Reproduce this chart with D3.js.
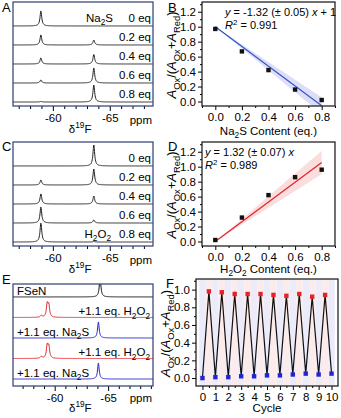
<!DOCTYPE html>
<html>
<head>
<meta charset="utf-8">
<script src="https://cdn.jsdelivr.net/npm/d3@7/dist/d3.min.js"></script>
<style>
  body { margin: 0; background: #fff; }
  svg { font-family: "Liberation Sans", Arial, sans-serif; }
</style>
</head>
<body>
<svg id="chart" width="341" height="418"></svg>
<script>
// ---- values ----

// A: 19F spectra during Na2S titration (peak heights in trace-spacing units)
const eqLabelsA = ["0 eq", "0.2 eq", "0.4 eq", "0.6 eq", "0.8 eq"];
const oxHeightsA = [0.79, 0.53, 0.32, 0.16, 0.03];
const redHeightsA = [0.0, 0.26, 0.5, 0.79, 0.89];

// C: 19F spectra during H2O2 titration
const eqLabelsC = ["0 eq", "0.2 eq", "0.4 eq", "0.6 eq", "0.8 eq"];
const oxHeightsC = [0.0, 0.26, 0.53, 0.84, 1.0];
const redHeightsC = [1.1, 0.84, 0.42, 0.16, 0.03];

const ppmOx = -58.95;
const ppmRed = -63.6;

// B: ratio vs Na2S content
const contentB = [0, 0.2, 0.4, 0.6, 0.8];
const ratioB = [0.97, 0.67, 0.42, 0.16, 0.02];
const errB = [0.01, 0.01, 0.01, 0.02, 0.01];
const fitB = { slope: -1.32, err: 0.05, intercept: 1 };

// D: ratio vs H2O2 content
const contentD = [0, 0.2, 0.4, 0.6, 0.8];
const ratioD = [0.02, 0.32, 0.62, 0.86, 0.96];
const errD = [0.01, 0.01, 0.02, 0.01, 0.01];
const fitD = { slope: 1.32, err: 0.07, intercept: 0 };

// E: alternating additions, [ppm, height] per trace
const labelsE = ["FSeN", "+1.1 eq. H_{2}O_{2}", "+1.1 eq. Na_{2}S", "+1.1 eq. H_{2}O_{2}", "+1.1 eq. Na_{2}S"];
const colorsE = ["#111111", "#e3242b", "#2424c8", "#e3242b", "#2424c8"];
const peaksE = [
  [[-64.25, 0.95]],
  [[-58.74, 0.1], [-59.3, 0.62], [-59.45, 0.55]],
  [[-64.09, 0.78]],
  [[-58.74, 0.1], [-59.3, 0.6], [-59.45, 0.55]],
  [[-64.09, 0.78]]
];

// F: redox cycling
const cycleOx = [0.5, 1.5, 2.5, 3.5, 4.5, 5.5, 6.5, 7.5, 8.5, 9.5];
const ratioOx = [0.98, 0.97, 0.95, 0.95, 0.95, 0.94, 0.93, 0.95, 0.92, 0.94];
const errOx = [0.01, 0.01, 0.03, 0.02, 0.01, 0.01, 0.01, 0.01, 0.01, 0.02];
const cycleRed = [0, 1, 2, 3, 4, 5, 6, 7, 8, 9, 10];
const ratioRed = [0.0, 0.01, 0.01, 0.02, 0.02, 0.03, 0.03, 0.04, 0.05, 0.04, 0.05];

const yTitle = "*A*_{Ox}/(*A*_{Ox}+*A*_{Red})";

// ---- helpers ----
const svg = d3.select("#chart");
const FS = 11;
const YT = 13;

function rich(text, str, size) {
  const parts = str.match(/_\{[^}]*\}|\^\{[^}]*\}|\*[^*]*\*|[^_^*]+/g);
  let shift = 0;
  parts.forEach(p => {
    let t = p, s = 0, fs = size, it = false;
    if (p[0] === "_") { t = p.slice(2, -1); s = size * 0.3; fs = size * 0.72; }
    else if (p[0] === "^") { t = p.slice(2, -1); s = -size * 0.4; fs = size * 0.72; }
    else if (p[0] === "*") { t = p.slice(1, -1); it = true; }
    text.append("tspan")
      .attr("dy", s - shift)
      .attr("font-size", fs)
      .attr("font-style", it ? "italic" : null)
      .text(t);
    shift = s;
  });
  return text;
}

function label(x, y, str, anchor, size) {
  const t = svg.append("text")
    .attr("x", x).attr("y", y)
    .attr("text-anchor", anchor || "start")
    .attr("font-size", size || FS);
  return rich(t, str, size || FS);
}

function spectraPanel(id, fr, ppmDomain, stackDomain, traces, frameColor, labelRow, titleY) {
  const x = d3.scaleLinear().domain(ppmDomain).range([fr.l, fr.r]);
  const y = d3.scaleLinear().domain(stackDomain).range([fr.b, fr.t]);
  const n = traces.length;

  svg.append("clipPath").attr("id", id)
    .append("rect").attr("x", fr.l).attr("y", fr.t)
    .attr("width", fr.r - fr.l).attr("height", fr.b - fr.t);

  const grid = d3.range(ppmDomain[0], ppmDomain[1], -0.02);
  const line = d3.line().x(d => x(d[0])).y(d => y(d[1]));
  const g = svg.append("g").attr("clip-path", `url(#${id})`);

  traces.forEach((tr, i) => {
    const off = n - 1 - i;
    const pts = grid.map(p => {
      let v = 0;
      tr.peaks.forEach(([c, h]) => { v += h / (1 + Math.pow((p - c) / 0.09, 2)); });
      return [p, off + v];
    });
    g.append("path").datum(pts)
      .attr("d", line)
      .attr("fill", "none")
      .attr("stroke", tr.color)
      .attr("stroke-width", 1);
  });

  // bottom axis with 1 ppm minor ticks
  const ticks = d3.range(Math.ceil(ppmDomain[1]), Math.floor(ppmDomain[0]) + 1, 1);
  const ax = svg.append("g")
    .attr("transform", `translate(0,${fr.b})`)
    .call(d3.axisBottom(x).tickValues(ticks).tickSize(4)
      .tickFormat(d => d % 5 === 0 ? String(d) : ""));
  ax.select(".domain").remove();
  ax.selectAll(".tick line").attr("y2", d => d % 5 === 0 ? 5 : 3);
  ax.selectAll(".tick text").attr("font-size", FS + 0.5).attr("y", 8)
    .attr("font-family", "Liberation Sans, Arial, sans-serif");

  svg.append("rect")
    .attr("x", fr.l).attr("y", fr.t)
    .attr("width", fr.r - fr.l).attr("height", fr.b - fr.t)
    .attr("fill", "none").attr("stroke", frameColor).attr("stroke-width", 1.2);

  label(fr.r - 1, fr.b + labelRow, "ppm", "end", FS + 0.5);
  label(x(-62.4), fr.b + titleY, "δ^{19}F", "middle", FS + 0.5);
  return y;
}

function yAxisFrame(p, x, y, yTicks, yMinor, xTicks, xMinor, xFmt) {
  const ax = svg.append("g").attr("transform", `translate(0,${p.b})`)
    .call(d3.axisBottom(x).tickValues(xTicks).tickSize(4).tickFormat(xFmt));
  ax.select(".domain").remove();
  ax.selectAll(".tick text").attr("font-size", FS + 0.5).attr("y", 7)
    .attr("font-family", "Liberation Sans, Arial, sans-serif");
  const axm = svg.append("g").attr("transform", `translate(0,${p.b})`)
    .call(d3.axisBottom(x).tickValues(xMinor).tickSize(2).tickFormat(""));
  axm.select(".domain").remove();

  const ay = svg.append("g").attr("transform", `translate(${p.l},0)`)
    .call(d3.axisLeft(y).tickValues(yTicks).tickSize(4).tickFormat(d3.format(".1f")));
  ay.select(".domain").remove();
  ay.selectAll(".tick text").attr("font-size", FS + 0.5).attr("x", -6)
    .attr("font-family", "Liberation Sans, Arial, sans-serif");
  const aym = svg.append("g").attr("transform", `translate(${p.l},0)`)
    .call(d3.axisLeft(y).tickValues(yMinor).tickSize(2).tickFormat(""));
  aym.select(".domain").remove();

  svg.append("rect")
    .attr("x", p.l).attr("y", p.t)
    .attr("width", p.r - p.l).attr("height", p.b - p.t)
    .attr("fill", "none").attr("stroke", "#111").attr("stroke-width", 1.2);

  const t = svg.append("text")
    .attr("transform", `translate(${p.l - 26},${(p.t + p.b) / 2 + 1}) rotate(-90)`)
    .attr("text-anchor", "middle").attr("font-size", YT);
  rich(t, yTitle, YT);
}

function fitPanel(id, p, xs, ys, es, fit, fill, stroke, eqStr, r2Str, textX, xTitleStr, titleDy) {
  const x = d3.scaleLinear().domain([-0.1, 0.9]).range([p.l, p.r]);
  const y = d3.scaleLinear().domain([-0.06, 1.33]).range([p.b, p.t]);

  svg.append("clipPath").attr("id", id)
    .append("rect").attr("x", p.l).attr("y", p.t)
    .attr("width", p.r - p.l).attr("height", p.b - p.t);
  const g = svg.append("g").attr("clip-path", `url(#${id})`);

  // 95% confidence band of the slope (t = 2.78, 4 dof)
  const bx = d3.range(0, 0.8001, 0.01);
  const band = d3.area()
    .x(d => x(d))
    .y0(d => y(fit.intercept + fit.slope * d - 2.78 * fit.err * d))
    .y1(d => y(fit.intercept + fit.slope * d + 2.78 * fit.err * d));
  g.append("path").datum(bx).attr("d", band).attr("fill", fill).attr("stroke", "none");
  g.append("line")
    .attr("x1", x(0)).attr("y1", y(fit.intercept))
    .attr("x2", x(0.8)).attr("y2", y(fit.intercept + fit.slope * 0.8))
    .attr("stroke", stroke).attr("stroke-width", 1.2);

  xs.forEach((v, i) => {
    g.append("line")
      .attr("x1", x(v)).attr("x2", x(v))
      .attr("y1", y(ys[i] - es[i])).attr("y2", y(ys[i] + es[i]))
      .attr("stroke", "#111").attr("stroke-width", 0.8);
    g.append("rect")
      .attr("x", x(v) - 2.2).attr("y", y(ys[i]) - 2.2)
      .attr("width", 4.4).attr("height", 4.4).attr("fill", "#111");
  });

  yAxisFrame(p, x, y, d3.range(0, 1.21, 0.2), d3.range(0.1, 1.31, 0.2),
    [0, 0.2, 0.4, 0.6, 0.8], [-0.1, 0.1, 0.3, 0.5, 0.7, 0.9], d3.format(".1f"));

  label(textX, p.t + 14, eqStr, "start");
  label(textX, p.t + 27, r2Str, "start");
  label((p.l + p.r) / 2, p.b + titleDy, xTitleStr, "middle", FS + 0.5);
}

// ---- panels ----
const frameA = { l: 13, r: 153, t: 2, b: 106 };
const frameC = { l: 13, r: 153, t: 142, b: 246 };
const frameE = { l: 13, r: 153, t: 284, b: 386 };
const frameNavy = "#2d3d72";

// A
const yA = spectraPanel("clipA", frameA, [-56.5, -68.8], [-0.21, 5.26],
  eqLabelsA.map((e, i) => ({ color: "#222", peaks: [[ppmOx, oxHeightsA[i]], [ppmRed, redHeightsA[i]]] })),
  frameNavy, 18, 27);
eqLabelsA.forEach((e, i) => {
  const by = yA(eqLabelsA.length - 1 - i) - 4;
  label(151, by, e, "end", FS + 0.5);
  if (i === 0) label(113, by, "Na_{2}S", "end", FS + 0.5);
});

// C
const yC = spectraPanel("clipC", frameC, [-56.5, -68.8], [-0.21, 5.26],
  eqLabelsC.map((e, i) => ({ color: "#222", peaks: [[ppmOx, oxHeightsC[i]], [ppmRed, redHeightsC[i]]] })),
  frameNavy, 18, 27);
eqLabelsC.forEach((e, i) => {
  const by = yC(eqLabelsC.length - 1 - i) - 4;
  label(151, by, e, "end", FS + 0.5);
  if (i === eqLabelsC.length - 1) label(111, by, "H_{2}O_{2}", "end", FS + 0.5);
});

// E
const yE = spectraPanel("clipE", frameE, [-56.1, -69.2], [-0.34, 4.63],
  labelsE.map((e, i) => ({ color: colorsE[i], peaks: peaksE[i] })),
  frameNavy, 16, 26);
labelsE.forEach((e, i) => {
  const by = yE(labelsE.length - 1 - i) - 2;
  if (i % 2 === 0) label(17, by, e, "start", FS + 0.5);
  else label(150, by, e, "end", FS + 0.5);
});

// B, D
const plotB = { l: 202, r: 335, t: 2, b: 106 };
const plotD = { l: 202, r: 335, t: 142, b: 246 };
fitPanel("clipB", plotB, contentB, ratioB, errB, fitB, "rgba(125,125,235,0.26)", "#2f56c0",
  "*y* = -1.32 (± 0.05) *x* + 1", "*R*^{2} = 0.991", 225, "Na_{2}S Content (eq.)", 29);
fitPanel("clipD", plotD, contentD, ratioD, errD, fitD, "rgba(235,125,125,0.26)", "#e3242b",
  "*y* = 1.32 (± 0.07) *x*", "*R*^{2} = 0.989", 205, "H_{2}O_{2} Content (eq.)", 27);

// F
const plotF = { l: 196, r: 338, t: 279, b: 386 };
const xF = d3.scaleLinear().domain([-0.5, 10.5]).range([plotF.l, plotF.r]);
const yF = d3.scaleLinear().domain([-0.09, 1.12]).range([plotF.b, plotF.t]);
svg.append("clipPath").attr("id", "clipF")
  .append("rect").attr("x", plotF.l).attr("y", plotF.t)
  .attr("width", plotF.r - plotF.l).attr("height", plotF.b - plotF.t);
const gF = svg.append("g").attr("clip-path", "url(#clipF)");
cycleRed.forEach(c => {
  gF.append("rect").attr("x", xF(c - 0.25)).attr("y", plotF.t)
    .attr("width", xF(c + 0.25) - xF(c - 0.25)).attr("height", plotF.b - plotF.t)
    .attr("fill", "#ebebfa");
});
cycleOx.forEach(c => {
  gF.append("rect").attr("x", xF(c - 0.25)).attr("y", plotF.t)
    .attr("width", xF(c + 0.25) - xF(c - 0.25)).attr("height", plotF.b - plotF.t)
    .attr("fill", "#fcebeb");
});
const zig = [];
cycleRed.forEach((c, i) => {
  zig.push([c, ratioRed[i]]);
  if (i < cycleOx.length) zig.push([cycleOx[i], ratioOx[i]]);
});
gF.append("path").datum(zig)
  .attr("d", d3.line().x(d => xF(d[0])).y(d => yF(d[1])))
  .attr("fill", "none").attr("stroke", "#111").attr("stroke-width", 1.2);
cycleOx.forEach((c, i) => {
  gF.append("line").attr("x1", xF(c)).attr("x2", xF(c))
    .attr("y1", yF(ratioOx[i] - errOx[i])).attr("y2", yF(ratioOx[i] + errOx[i]))
    .attr("stroke", "#e3242b").attr("stroke-width", 0.8);
  gF.append("rect").attr("x", xF(c) - 2.2).attr("y", yF(ratioOx[i]) - 2.2)
    .attr("width", 4.4).attr("height", 4.4).attr("fill", "#e3242b");
});
cycleRed.forEach((c, i) => {
  gF.append("rect").attr("x", xF(c) - 2.2).attr("y", yF(ratioRed[i]) - 2.2)
    .attr("width", 4.4).attr("height", 4.4).attr("fill", "#2424d0");
});
yAxisFrame(plotF, xF, yF, d3.range(0, 1.01, 0.2), d3.range(0.1, 1.11, 0.2),
  cycleRed, cycleOx, d3.format("d"));
label((plotF.l + plotF.r) / 2, plotF.b + 26, "Cycle", "middle", FS + 0.5);

// panel letters
[["A", 2, 12], ["B", 168, 12], ["C", 2, 151], ["D", 168, 151], ["E", 2, 284], ["F", 166, 288]]
  .forEach(([s, x, y]) => label(x, y, s, "start", 13));
</script>
</body>
</html>
